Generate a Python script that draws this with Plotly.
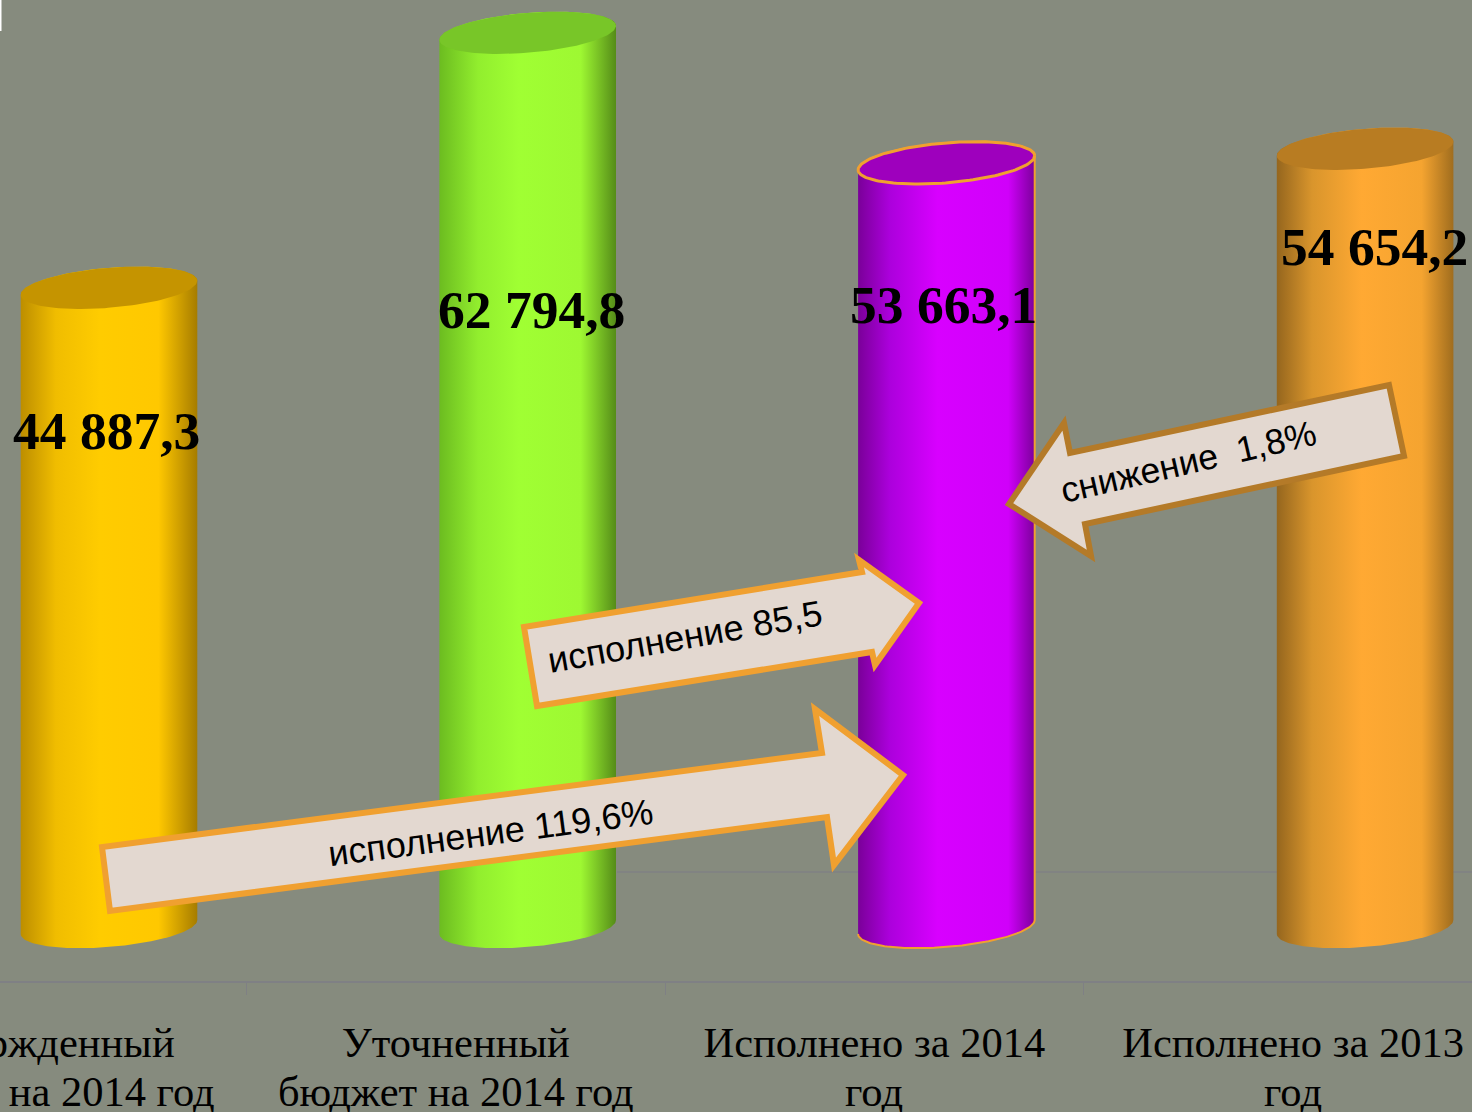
import numpy as np
import plotly.graph_objects as go

# ---- data -------------------------------------------------------------
categories_line1 = ["Утвержденный", "Уточненный", "Исполнено за 2014", "Исполнено за 2013"]
categories_line2 = ["бюджет на 2014 год", "бюджет на 2014 год", "год", "год"]
values = [44887.3, 62794.8, 53663.1, 54654.2]
value_labels = ["44 887,3", "62 794,8", "53 663,1", "54 654,2"]
body_colors = [
    [[0, "#bd8e00"], [.2, "#f0bd00"], [.45, "#ffcc00"], [.78, "#ffc800"], [1, "#a67c00"]],
    [[0, "#6cbc20"], [.22, "#92ee2e"], [.45, "#a0ff33"], [.8, "#9ef832"], [1, "#558c18"]],
    [[0, "#7a0099"], [.18, "#ac00dc"], [.45, "#d800ff"], [.85, "#d000fa"], [1, "#7c009c"]],
    [[0, "#95661e"], [.2, "#d9952c"], [.48, "#ffa933"], [.82, "#f5a430"], [1, "#a06d1e"]],
]
top_colors = ["#c59400", "#78c628", "#9e00bd", "#b87c22"]
outline = [None, None, "#f0a030", None]
value_label_pos = [(106, 431), (531, 310), (943, 305), (1374, 247)]

arrows = [
    dict(pts=[(102, 847), (110, 911), (827, 817), (834, 865), (903, 775), (815, 709), (822, 753)],
         color="#f0a030", text="исполнение 119,6%", at=(490, 832), angle=-7.5, size=36),
    dict(pts=[(524, 627), (537, 706), (872, 652), (875, 665), (919, 603), (859, 560), (862, 572)],
         color="#f0a030", text="исполнение 85,5", at=(685, 636), angle=-10, size=36),
    dict(pts=[(1389, 385), (1404, 456), (1085, 524), (1091, 556), (1009, 504), (1064, 423), (1070, 453)],
         color="#b47a28", text="снижение  1,8%", at=(1188, 462), angle=-13, size=35.6),
]

# ---- geometry ---------------------------------------------------------
W, H = 1472, 1112
AXIS_PY = 981          # pixel row of the category axis
ZERO_PY = 927          # pixel row of value 0
GRID_PY = 872          # faint gridline
PX_PER_UNIT = 0.01424
STEP = 418.7
FIRST = 37
OFFSET = 72 / STEP     # cylinders sit right of the category centres
HALF_W = 88.3 / STEP
TILT = 7 / PX_PER_UNIT
DEPTH = 20 / PX_PER_UNIT
GREY = "#7f8084"


def to_x(px):
    return (px - FIRST) / STEP


def to_y(py):
    return (ZERO_PY - py) / PX_PER_UNIT


def ellipse(i, level, t):
    x = i + OFFSET + HALF_W * np.cos(t)
    y = level + TILT * np.cos(t) + DEPTH * np.sin(t)
    return x, y


fig = go.Figure()
for i, (v, cs, tc, ol) in enumerate(zip(values, body_colors, top_colors, outline)):
    t_top = np.linspace(np.pi, 0, 80)
    t_bot = np.linspace(0, -np.pi, 80)
    xt, yt = ellipse(i, v, t_top)
    xb, yb = ellipse(i, 0, t_bot)
    line = dict(color=ol, width=2) if ol else dict(width=0)
    fig.add_trace(go.Scatter(
        x=np.r_[xt, xb], y=np.r_[yt, yb], mode="lines", fill="toself",
        fillgradient=dict(type="horizontal", colorscale=cs),
        line=line, hoverinfo="skip", showlegend=False))
    t = np.linspace(0, 2 * np.pi, 160)
    xe, ye = ellipse(i, v, t)
    fig.add_trace(go.Scatter(
        x=xe, y=ye, mode="lines", fill="toself", fillcolor=tc,
        line=dict(color=ol, width=3) if ol else dict(width=0),
        hoverinfo="skip", showlegend=False))

annotations = []
for lab, (px, py) in zip(value_labels, value_label_pos):
    annotations.append(dict(x=to_x(px), y=to_y(py), text=f"<b>{lab}</b>", showarrow=False,
                            font=dict(family="Liberation Serif", size=53.5, color="#000000")))

for i, lab in enumerate(categories_line2):
    annotations.append(dict(x=i, xref="x", y=1 - 1091 / AXIS_PY, yref="paper", text=lab, showarrow=False,
                            xanchor="center", yanchor="middle",
                            font=dict(family="Liberation Serif", size=42.5, color="#000000")))

shapes = [
    dict(type="rect", xref="x", yref="y", x0=to_x(0), x1=to_x(1.5), y0=to_y(31), y1=to_y(0),
         fillcolor="#ffffff", line_width=0),
    dict(type="line", xref="x", yref="y", layer="below", x0=to_x(617), x1=to_x(W),
         y0=to_y(GRID_PY), y1=to_y(GRID_PY), line=dict(color=GREY, width=1.5)),
]
for a in arrows:
    path = "M " + " L ".join(f"{to_x(p[0]):.5f},{to_y(p[1]):.2f}" for p in a["pts"]) + " Z"
    shapes.append(dict(type="path", xref="x", yref="y", path=path, layer="above",
                       fillcolor="#e3d8d0", line=dict(color=a["color"], width=6)))
    annotations.append(dict(x=to_x(a["at"][0]), y=to_y(a["at"][1]), text=a["text"],
                            textangle=a["angle"], showarrow=False,
                            font=dict(family="Liberation Sans", size=a["size"], color="#000000")))

fig.update_layout(
    width=W, height=H, margin=dict(l=0, r=0, t=0, b=H - AXIS_PY, autoexpand=False),
    paper_bgcolor="#868b7e", plot_bgcolor="rgba(0,0,0,0)",
    showlegend=False, annotations=annotations, shapes=shapes,
    xaxis=dict(
        automargin=False,
        range=[to_x(0), to_x(W)], tickmode="array", tickvals=list(range(len(categories_line1))),
        ticktext=categories_line1, ticks="outside", ticklen=23, tickcolor="rgba(0,0,0,0)",
        ticklabeloverflow="allow", showgrid=False, zeroline=False,
        showline=True, linecolor=GREY, linewidth=2,
        tickfont=dict(family="Liberation Serif", size=42.5, color="#000000"),
        minor=dict(tickmode="array", tickvals=[k + .5 for k in range(4)], ticks="outside",
                   ticklen=12, tickcolor=GREY, tickwidth=1, showgrid=False),
    ),
    yaxis=dict(automargin=False, range=[to_y(AXIS_PY), to_y(0)], showticklabels=False, ticks="",
               showgrid=False, zeroline=False, showline=False),
)

fig.write_html("out.html", post_script="document.body.style.margin='0';document.body.style.overflow='hidden';",
               config={"displayModeBar": False})
